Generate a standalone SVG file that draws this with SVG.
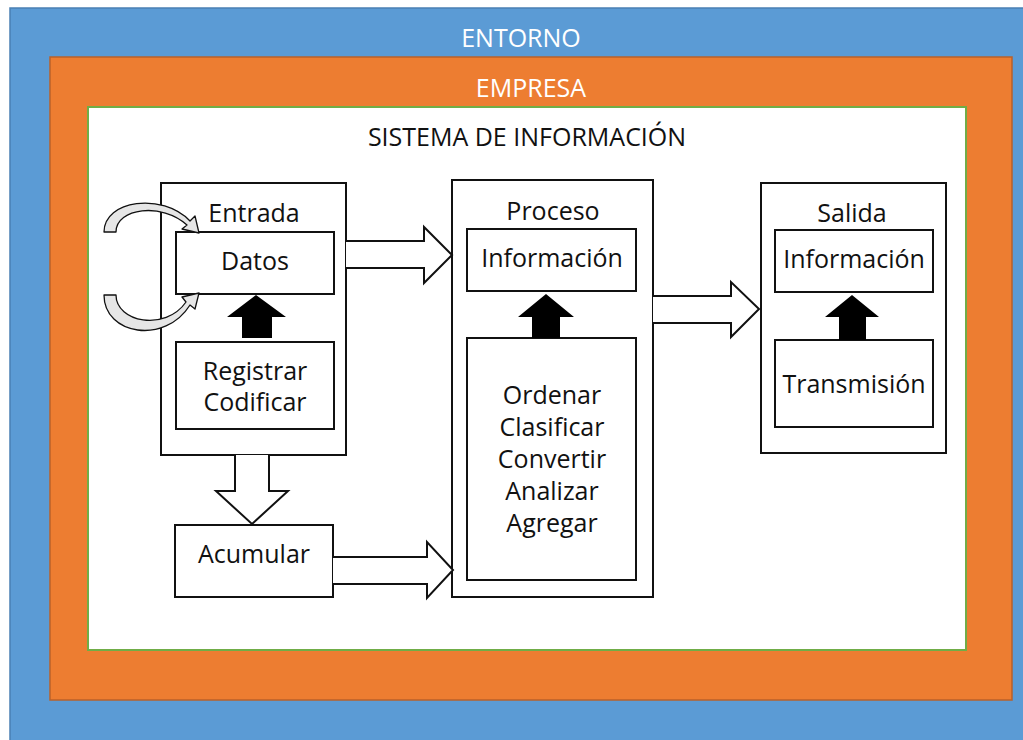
<svg xmlns="http://www.w3.org/2000/svg" width="1023" height="740" viewBox="0 0 1023 740">
<style>
  .t { font-family: "Open Sans", "Liberation Sans", sans-serif; fill: #111; text-anchor: middle; font-size: 25px; }
  .w { font-family: "Open Sans", "Liberation Sans", sans-serif; fill: #fff; text-anchor: middle; font-size: 25px; }
  .box { fill: #fff; stroke: #111; stroke-width: 2; }
  .hollow { fill: #fff; stroke: #111; stroke-width: 2; stroke-linejoin: miter; }
  .solid { fill: #000; stroke: none; }
  .curve { fill: #e6e6e6; stroke: #111; stroke-width: 1.3; stroke-linejoin: round; }
</style>
<rect x="0" y="0" width="1023" height="740" fill="#fff"/>
<g id="entorno">
  <rect x="10" y="8" width="1015" height="734" fill="#5B9BD5" stroke="#4A80B4" stroke-width="1.5"/>
  <text class="w" x="521" y="47">ENTORNO</text>
</g>
<g id="empresa">
  <rect x="50" y="57" width="962" height="643" fill="#ED7D31" stroke="#B9612A" stroke-width="1.5"/>
  <text class="w" x="531" y="97">EMPRESA</text>
</g>
<g id="sistema">
  <rect x="88" y="107" width="878" height="543" fill="#fff" stroke="#70AD47" stroke-width="2"/>
  <text class="t" x="527" y="146" font-size="25.5">SISTEMA DE INFORMACIÓN</text>
</g>
<g id="entrada">
  <rect class="box" x="161" y="183" width="185" height="272"/>
  <text class="t" x="254" y="222">Entrada</text>
</g>
<g id="datos">
  <rect class="box" x="176" y="232" width="158" height="62"/>
  <text class="t" x="255" y="270">Datos</text>
</g>
<g id="registrar">
  <rect class="box" x="176" y="342" width="158" height="87"/>
  <text class="t" x="255" y="380">Registrar</text>
  <text class="t" x="255" y="411">Codificar</text>
</g>
<g id="acumular">
  <rect class="box" x="175" y="525" width="158" height="72"/>
  <text class="t" x="254" y="563">Acumular</text>
</g>
<g id="proceso">
  <rect class="box" x="452" y="180" width="201" height="417"/>
  <text class="t" x="553" y="220">Proceso</text>
</g>
<g id="proceso-informacion">
  <rect class="box" x="467" y="229" width="169" height="62"/>
  <text class="t" x="552" y="267">Información</text>
</g>
<g id="operaciones">
  <rect class="box" x="467" y="338" width="169" height="242"/>
  <text class="t" x="552" y="404">Ordenar</text>
  <text class="t" x="552" y="436">Clasificar</text>
  <text class="t" x="552" y="468">Convertir</text>
  <text class="t" x="552" y="500">Analizar</text>
  <text class="t" x="552" y="532">Agregar</text>
</g>
<g id="salida">
  <rect class="box" x="761" y="183" width="185" height="270"/>
  <text class="t" x="852" y="222">Salida</text>
</g>
<g id="salida-informacion">
  <rect class="box" x="775" y="230" width="158" height="62"/>
  <text class="t" x="854" y="268">Información</text>
</g>
<g id="transmision">
  <rect class="box" x="775" y="340" width="158" height="87"/>
  <text class="t" x="854" y="393">Transmisión</text>
</g>
<g id="connectors">
  <path class="hollow" d="M346,241 L424,241 L424,227 L452,255 L424,283 L424,268 L346,268"/>
  <path class="hollow" d="M653,296 L731,296 L731,282 L759,309 L731,337 L731,323 L653,323"/>
  <path class="hollow" d="M235,455 L235,491 L216,491 L252,524 L288,491 L269,491 L269,455"/>
  <path class="hollow" d="M333,557 L427,557 L427,542 L453,570 L427,598 L427,584 L333,584"/>
  <path class="solid" d="M242,338 L242,317 L227,317 L256,295 L286,317 L272,317 L272,338 Z"/>
  <path class="solid" d="M532,338 L532,317 L518,317 L546,294 L574,317 L560,317 L560,338 Z"/>
  <path class="solid" d="M839,340 L839,317 L825,317 L852,295 L879,317 L866,317 L866,340 Z"/>
  <path class="curve" d="M104,232 C104,200 162,192 190,221 L195,216 L199,233 L182,229 L187,225 C162,202 116,208 116,232 Z"/>
  <path class="curve" d="M104,295 C104,335 165,345 190,305 L195,309 L199,293 L182,297 L186,302 C165,332 116,322 116,295 Z"/>
</g>
</svg>
